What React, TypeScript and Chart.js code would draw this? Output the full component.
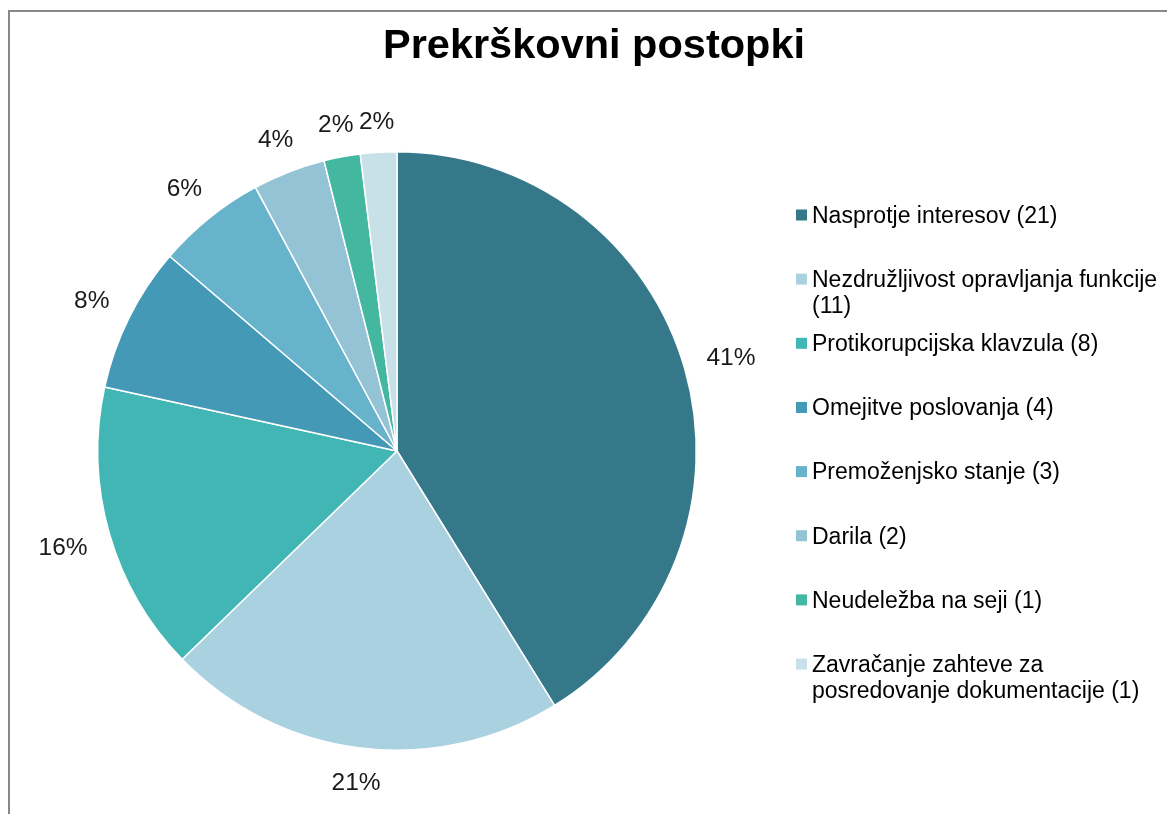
import React, { useEffect, useRef } from "react";
import { Chart, registerables } from "chart.js";

Chart.register(...registerables);

const chartTitle = "Prekrškovni postopki";
const categories = [
  "Nasprotje interesov",
  "Nezdružljivost opravljanja funkcije",
  "Protikorupcijska klavzula",
  "Omejitve poslovanja",
  "Premoženjsko stanje",
  "Darila",
  "Neudeležba na seji",
  "Zavračanje zahteve za posredovanje dokumentacije",
];
const counts = [21, 11, 8, 4, 3, 2, 1, 1];
const percentLabels = ["41%", "21%", "16%", "8%", "6%", "4%", "2%", "2%"];
const sliceColors = [
  "#34788a",
  "#aad1e0",
  "#41b6b5",
  "#4499b7",
  "#67b3cb",
  "#93c3d5",
  "#44b7a0",
  "#c8e0e8",
];

const FONT = '"Liberation Sans", Arial, Helvetica, sans-serif';

function wrapText(ctx: CanvasRenderingContext2D, text: string, maxWidth: number): string[] {
  const words = text.split(" ");
  const lines: string[] = [];
  let cur = "";
  for (const w of words) {
    const test = cur ? cur + " " + w : w;
    if (ctx.measureText(test).width > maxWidth && cur) {
      lines.push(cur);
      cur = w;
    } else {
      cur = test;
    }
  }
  if (cur) lines.push(cur);
  return lines;
}

const overlayPlugin = {
  id: "overlay",
  afterDraw(chart: any) {
    const ctx: CanvasRenderingContext2D = chart.ctx;
    ctx.save();

    // Title
    ctx.font = `bold 41.5px ${FONT}`;
    ctx.fillStyle = "#000";
    ctx.textAlign = "center";
    ctx.textBaseline = "alphabetic";
    ctx.fillText(chartTitle, 594, 58);

    // Percentage labels outside the slices
    const meta = chart.getDatasetMeta(0);
    ctx.font = `24.5px ${FONT}`;
    ctx.fillStyle = "#1a1a1a";
    const capH = 17.5;
    meta.data.forEach((arc: any, i: number) => {
      const p = arc.getProps(["x", "y", "startAngle", "endAngle", "outerRadius"], true);
      const mid = (p.startAngle + p.endAngle) / 2;
      const c = Math.cos(mid);
      const s = Math.sin(mid);
      const txt = percentLabels[i];
      const w = ctx.measureText(txt).width;
      const R = p.outerRadius + 22 + Math.abs(c) * w / 2 + Math.abs(s) * capH / 2;
      const cx = p.x + c * R;
      const cy = p.y + s * R;
      ctx.textAlign = "center";
      ctx.textBaseline = "alphabetic";
      ctx.fillText(txt, cx, cy + capH / 2);
    });

    // Legend
    ctx.font = `23px ${FONT}`;
    ctx.textAlign = "left";
    ctx.textBaseline = "alphabetic";
    const legendX = 812;
    const firstY = 214.5;
    const step = 64.15;
    const lineH = 26;
    const legCap = 16.5;
    categories.forEach((cat, i) => {
      const label = `${cat} (${counts[i]})`;
      const lines = wrapText(ctx, label, 352);
      const y0 = firstY + i * step;
      ctx.fillStyle = sliceColors[i];
      ctx.fillRect(796, y0 - 5, 11, 11);
      ctx.fillStyle = "#000";
      lines.forEach((ln, j) => {
        ctx.fillText(ln, legendX, y0 + legCap / 2 + j * lineH);
      });
    });

    ctx.restore();
  },
};

export default function App() {
  const canvasRef = useRef<HTMLCanvasElement | null>(null);

  useEffect(() => {
    if (!canvasRef.current) return;
    const chart = new Chart(canvasRef.current, {
      type: "pie",
      data: {
        labels: categories,
        datasets: [
          {
            data: counts,
            backgroundColor: sliceColors,
            borderColor: "#ffffff",
            borderWidth: 1.5,
          },
        ],
      },
      options: {
        responsive: false,
        animation: false,
        events: [],
        layout: {
          padding: { left: 97, top: 151, right: 470, bottom: 63 },
        },
        plugins: {
          legend: { display: false },
          title: { display: false },
          tooltip: { enabled: false },
        },
      },
      plugins: [overlayPlugin],
    });
    return () => chart.destroy();
  }, []);

  return (
    <div style={{ position: "absolute", left: 0, top: 0, width: 1167, height: 814, background: "#fff", overflow: "hidden" }}>
      <canvas ref={canvasRef} width={1167} height={814} style={{ position: "absolute", left: 0, top: 0 }} />
      <div
        style={{
          position: "absolute",
          left: 8,
          top: 10,
          width: 1200,
          height: 900,
          borderLeft: "2px solid #878787",
          borderTop: "2px solid #878787",
          pointerEvents: "none",
        }}
      />
    </div>
  );
}
